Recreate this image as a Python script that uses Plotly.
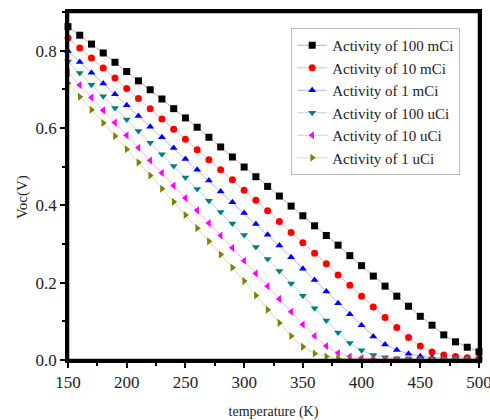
import plotly.graph_objects as go

temperature = list(range(150, 501, 10))

act_100mCi = [0.862, 0.840, 0.817, 0.794, 0.770, 0.746, 0.722, 0.699, 0.675, 0.650,
              0.626, 0.602, 0.576, 0.551, 0.525, 0.499, 0.474, 0.449, 0.424, 0.398,
              0.373, 0.347, 0.322, 0.297, 0.270, 0.244, 0.217, 0.191, 0.165, 0.139,
              0.113, 0.090, 0.065, 0.047, 0.033, 0.021]
act_10mCi = [0.833, 0.807, 0.781, 0.755, 0.729, 0.702, 0.676, 0.650, 0.623, 0.597,
             0.571, 0.544, 0.518, 0.492, 0.466, 0.439, 0.413, 0.386, 0.358, 0.330,
             0.303, 0.276, 0.249, 0.220, 0.193, 0.165, 0.137, 0.110, 0.084, 0.058,
             0.036, 0.021, 0.013, 0.009, 0.006, 0.004]
act_1mCi = [0.799, 0.771, 0.743, 0.715, 0.687, 0.659, 0.631, 0.603, 0.576, 0.548,
            0.520, 0.492, 0.464, 0.436, 0.408, 0.380, 0.352, 0.324, 0.296, 0.266,
            0.236, 0.207, 0.177, 0.147, 0.118, 0.090, 0.061, 0.040, 0.026, 0.016,
            0.010, 0.007, 0.005, 0.003, 0.002, 0.001]
act_100uCi = [0.772, 0.742, 0.712, 0.682, 0.652, 0.622, 0.592, 0.562, 0.532, 0.502,
              0.472, 0.442, 0.412, 0.383, 0.353, 0.323, 0.292, 0.261, 0.230, 0.198,
              0.166, 0.134, 0.102, 0.071, 0.044, 0.025, 0.013, 0.007, 0.004, 0.003,
              0.002, 0.001, 0.001, 0.001, 0.001, 0.001]
act_10uCi = [0.743, 0.711, 0.679, 0.646, 0.614, 0.581, 0.549, 0.516, 0.484, 0.451,
             0.419, 0.387, 0.354, 0.322, 0.290, 0.257, 0.224, 0.191, 0.158, 0.125,
             0.092, 0.062, 0.036, 0.018, 0.009, 0.005, 0.003, 0.002, 0.001, 0.001,
             0.001, 0.001, 0.001, 0.001, 0.001, 0.001]
act_1uCi = [0.716, 0.681, 0.647, 0.613, 0.579, 0.545, 0.511, 0.477, 0.443, 0.409,
            0.375, 0.341, 0.307, 0.273, 0.239, 0.204, 0.167, 0.130, 0.096, 0.062,
            0.034, 0.017, 0.009, 0.004, 0.002, 0.001, 0.001, 0.001, 0.001, 0.001,
            0.001, 0.001, 0.001, 0.001, 0.001, 0.001]

series = [
    ("Activity of 100 mCi", act_100mCi, "square", "#000000", "rgba(0,0,0,0.3)"),
    ("Activity of 10 mCi", act_10mCi, "circle", "#FF0000", "rgba(255,0,0,0.3)"),
    ("Activity of 1 mCi", act_1mCi, "triangle-up", "#0000FF", "rgba(0,0,255,0.3)"),
    ("Activity of 100 uCi", act_100uCi, "triangle-down", "#008080", "rgba(0,128,128,0.3)"),
    ("Activity of 10 uCi", act_10uCi, "triangle-left", "#FF00FF", "rgba(255,0,255,0.3)"),
    ("Activity of 1 uCi", act_1uCi, "triangle-right", "#808000", "rgba(128,128,0,0.3)"),
]

fig = go.Figure()
for name, vals, sym, col, lcol in series:
    fig.add_trace(go.Scatter(
        x=temperature, y=vals, name=name, mode="lines+markers",
        line=dict(color=lcol, width=1),
        marker=dict(symbol=sym, color=col, size=7, line=dict(width=0)),
        cliponaxis=False,
    ))

serif = "Liberation Serif"
fig.update_layout(
    template="none",
    width=490, height=420,
    margin=dict(l=68, r=11, t=12, b=60, autoexpand=False),
    paper_bgcolor="white", plot_bgcolor="white",
    font=dict(family=serif, color="#222"),
    showlegend=True,
    legend=dict(
        x=0.543, y=0.954, xanchor="left", yanchor="top",
        bgcolor="white", bordercolor="#BBBBBB", borderwidth=1,
        font=dict(family=serif, size=15, color="#222"),
        tracegroupgap=0, itemwidth=30,
    ),
    xaxis=dict(
        range=[150, 500], tickmode="linear", tick0=150, dtick=50,
        automargin=False, ticklabeloverflow="allow",
        showline=True, linecolor="black", linewidth=2.5, mirror=True,
        ticks="outside", ticklen=5, tickwidth=2, tickcolor="black",
        minor=dict(dtick=25, ticks="outside", ticklen=3, tickwidth=2, tickcolor="black", showgrid=False),
        showgrid=False, zeroline=False,
        tickfont=dict(family=serif, size=17, color="#222"),
        title=dict(text="temperature (K)", font=dict(family=serif, size=14, color="#222"), standoff=23),
    ),
    yaxis=dict(
        range=[0, 0.9], tickmode="linear", tick0=0, dtick=0.2, tickformat=".1f",
        automargin=False, ticklabeloverflow="allow",
        showline=True, linecolor="black", linewidth=2.5, mirror=True,
        ticks="outside", ticklen=5, tickwidth=2, tickcolor="black",
        minor=dict(dtick=0.1, ticks="outside", ticklen=3, tickwidth=2, tickcolor="black", showgrid=False),
        showgrid=False, zeroline=False,
        tickfont=dict(family=serif, size=17, color="#222"),
    ),
    annotations=[dict(
        text="Voc(V)", xref="paper", yref="paper", x=-0.112, y=0.468,
        textangle=-90, showarrow=False, xanchor="center", yanchor="middle",
        font=dict(family=serif, size=15, color="#222"),
    )],
    shapes=[dict(
        type="rect", xref="paper", yref="paper", x0=0, x1=1, y0=0, y1=1,
        line=dict(color="black", width=2.5), layer="above",
    )],
)

fig.write_html(
    "out.html",
    config={"displayModeBar": False},
    post_script="document.body.style.margin='0';document.body.style.padding='0';",
)
